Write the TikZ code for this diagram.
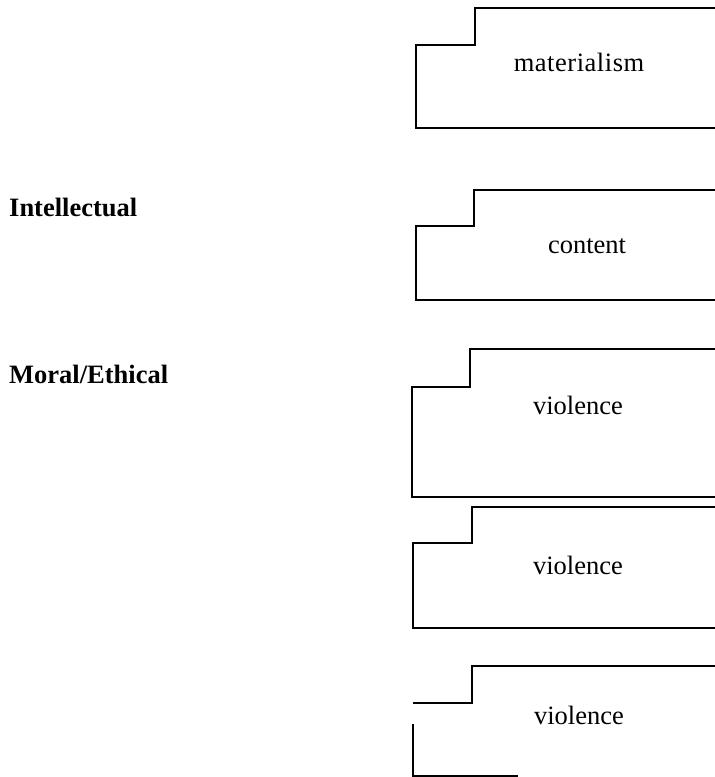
\documentclass[tikz,border=0pt]{standalone}
\usepackage{fontspec}
\setmainfont{Liberation Serif}
\begin{document}
\begin{tikzpicture}[x=1pt,y=-1pt,
  outline/.style={draw=black,line width=1.1pt,line join=miter},
  boxtext/.style={font=\fontsize{26.5}{30}\selectfont,anchor=base,inner sep=0pt},
  sidelabel/.style={font=\fontsize{26.5}{30}\selectfont\bfseries,anchor=base west,inner sep=0pt}]
\useasboundingbox (0,0) rectangle (715,777);
% box 1
\draw[outline] (715,8) -- (475,8) -- (475,45) -- (416,45) -- (416,128) -- (715,128);
\node[boxtext] (t1) at (579,71) {\addfontfeature{LetterSpace=2}materialism};
% box 2
\draw[outline] (715,190) -- (474,190) -- (474,226) -- (416,226) -- (416,300) -- (715,300);
\node[boxtext] (t2) at (587,253) {content};
% box 3
\draw[outline] (715,349) -- (470,349) -- (470,387) -- (412,387) -- (412,497) -- (715,497);
\node[boxtext] (t3) at (578,414) {violence};
% box 4
\draw[outline] (715,507) -- (472,507) -- (472,543) -- (413,543) -- (413,628) -- (715,628);
\node[boxtext] (t4) at (578,574) {violence};
% box 5
\draw[outline] (715,666) -- (472,666) -- (472,703) -- (413,703);
\draw[outline] (413,724) -- (413,776) -- (518,776);
\node[boxtext] (t5) at (579,724) {violence};
% side labels
\node[sidelabel] (l1) at (9,216) {Intellectual};
\node[sidelabel] (l2) at (9,383) {Moral/Ethical};
\end{tikzpicture}
\end{document}
